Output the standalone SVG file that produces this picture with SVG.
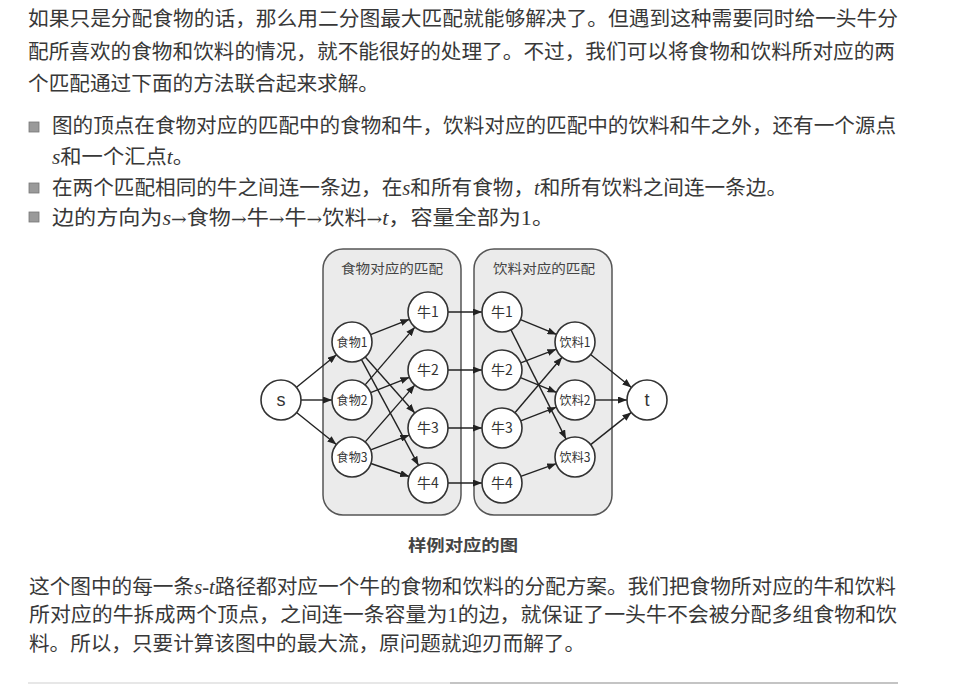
<svg xmlns="http://www.w3.org/2000/svg" width="957" height="684" viewBox="0 0 957 684">
<style>
.p{font-family:"Liberation Serif","Noto Sans CJK SC",serif;font-size:20px;fill:#383838}
.i{font-style:italic}
.ar{font-family:"DejaVu Serif","DejaVu Sans",serif;font-size:17px}
.box{fill:#ebebeb;stroke:#555;stroke-width:1.5}
.hd{font-family:"Noto Sans CJK SC","Liberation Sans",sans-serif;font-size:13px;fill:#444}
.nd{fill:#fff;stroke:#333;stroke-width:1.6}
.lb{font-family:"Noto Sans CJK SC","Liberation Sans",sans-serif;font-size:12.5px;fill:#333;text-anchor:middle}
.lc{font-family:"Noto Sans CJK SC","Liberation Sans",sans-serif;font-size:14px;fill:#333;text-anchor:middle}
.ls{font-family:"Liberation Sans","Noto Sans CJK SC",sans-serif;font-size:18px;fill:#333;text-anchor:middle}
.e{stroke:#222;stroke-width:1.4;fill:none;marker-end:url(#ah)}
.bul{fill:#9a9a9a;stroke:#777;stroke-width:0.8}
.cap{font-family:"Noto Sans CJK SC","Liberation Sans",sans-serif;font-size:16px;font-weight:bold;fill:#444}
</style>
<defs>
<marker id="ah" markerUnits="userSpaceOnUse" markerWidth="9" markerHeight="7" refX="9" refY="3.5" orient="auto">
<path d="M0,0 L9,3.5 L0,7 z" fill="#222"/>
</marker>
</defs>
<rect width="957" height="684" fill="#fff"/>

<g id="intro">
<text class="p" x="28" y="26" textLength="870" lengthAdjust="spacingAndGlyphs">如果只是分配食物的话，那么用二分图最大匹配就能够解决了。但遇到这种需要同时给一头牛分</text>
<text class="p" x="28" y="58.5" textLength="867" lengthAdjust="spacingAndGlyphs">配所喜欢的食物和饮料的情况，就不能很好的处理了。不过，我们可以将食物和饮料所对应的两</text>
<text class="p" x="28" y="91" textLength="351" lengthAdjust="spacingAndGlyphs">个匹配通过下面的方法联合起来求解。</text>
</g>

<g id="bullets">
<rect class="bul" x="29" y="122" width="10" height="10"/>
<rect class="bul" x="29" y="183" width="10" height="10"/>
<rect class="bul" x="29" y="212" width="10" height="10"/>
<text class="p" x="52" y="133" textLength="844" lengthAdjust="spacingAndGlyphs">图的顶点在食物对应的匹配中的食物和牛，饮料对应的匹配中的饮料和牛之外，还有一个源点</text>
<text class="p" x="52" y="164" textLength="142" lengthAdjust="spacingAndGlyphs"><tspan class="i">s</tspan>和一个汇点<tspan class="i">t</tspan>。</text>
<text class="p" x="52" y="195" textLength="735" lengthAdjust="spacingAndGlyphs">在两个匹配相同的牛之间连一条边，在<tspan class="i">s</tspan>和所有食物，<tspan class="i">t</tspan>和所有饮料之间连一条边。</text>
<text class="p" x="52" y="225" textLength="502" lengthAdjust="spacingAndGlyphs">边的方向为<tspan class="i">s</tspan><tspan class="ar">→</tspan>食物<tspan class="ar">→</tspan>牛<tspan class="ar">→</tspan>牛<tspan class="ar">→</tspan>饮料<tspan class="ar">→</tspan><tspan class="i">t</tspan>，容量全部为1。</text>
</g>

<g id="food-box">
<rect class="box" x="323" y="249" width="138" height="266" rx="20"/>
<text class="hd" x="341" y="273" textLength="102" lengthAdjust="spacingAndGlyphs">食物对应的匹配</text>
</g>
<g id="drink-box">
<rect class="box" x="474" y="249" width="138" height="266" rx="20"/>
<text class="hd" x="493" y="273" textLength="102" lengthAdjust="spacingAndGlyphs">饮料对应的匹配</text>
</g>

<g id="connectors">
<line class="e" x1="296.5" y1="387.3" x2="336.5" y2="354.7"/>
<line class="e" x1="301" y1="400" x2="332" y2="400"/>
<line class="e" x1="296.6" y1="412.5" x2="336.4" y2="444.5"/>
<line class="e" x1="370.6" y1="334.7" x2="409.4" y2="319.3"/>
<line class="e" x1="365.2" y1="357" x2="414.8" y2="413"/>
<line class="e" x1="361.5" y1="359.6" x2="418.5" y2="465.4"/>
<line class="e" x1="365.1" y1="384.9" x2="414.9" y2="327.1"/>
<line class="e" x1="370.6" y1="392.7" x2="409.4" y2="377.3"/>
<line class="e" x1="365.2" y1="441.9" x2="414.8" y2="385.1"/>
<line class="e" x1="370.7" y1="449.9" x2="409.3" y2="435.1"/>
<line class="e" x1="370.9" y1="463.5" x2="409.1" y2="476.5"/>
<line class="e" x1="448" y1="312" x2="482" y2="312"/>
<line class="e" x1="448" y1="370" x2="482" y2="370"/>
<line class="e" x1="448" y1="428" x2="482" y2="428"/>
<line class="e" x1="448" y1="483" x2="482" y2="483"/>
<line class="e" x1="520.5" y1="319.6" x2="556.5" y2="334.4"/>
<line class="e" x1="511" y1="329.9" x2="566" y2="439.1"/>
<line class="e" x1="520.7" y1="362.8" x2="556.3" y2="349.2"/>
<line class="e" x1="520.5" y1="377.6" x2="556.5" y2="392.4"/>
<line class="e" x1="514.9" y1="412.8" x2="562.1" y2="357.2"/>
<line class="e" x1="520.7" y1="420.8" x2="556.3" y2="407.2"/>
<line class="e" x1="520.8" y1="476.3" x2="556.2" y2="463.7"/>
<line class="e" x1="590.6" y1="354.5" x2="631.4" y2="387.5"/>
<line class="e" x1="595" y1="400" x2="627" y2="400"/>
<line class="e" x1="590.7" y1="444.6" x2="631.3" y2="412.4"/>
</g>

<g id="n-s"><circle class="nd" cx="281" cy="400" r="20"/><text class="ls" x="281" y="406">s</text></g>
<g id="n-f1"><circle class="nd" cx="352" cy="342" r="20"/><text class="lb" x="352" y="346.5" textLength="31" lengthAdjust="spacingAndGlyphs">食物1</text></g>
<g id="n-f2"><circle class="nd" cx="352" cy="400" r="20"/><text class="lb" x="352" y="404.5" textLength="31" lengthAdjust="spacingAndGlyphs">食物2</text></g>
<g id="n-f3"><circle class="nd" cx="352" cy="457" r="20"/><text class="lb" x="352" y="461.5" textLength="31" lengthAdjust="spacingAndGlyphs">食物3</text></g>
<g id="n-c1a"><circle class="nd" cx="428" cy="312" r="20"/><text class="lc" x="428" y="317">牛1</text></g>
<g id="n-c2a"><circle class="nd" cx="428" cy="370" r="20"/><text class="lc" x="428" y="375">牛2</text></g>
<g id="n-c3a"><circle class="nd" cx="428" cy="428" r="20"/><text class="lc" x="428" y="433">牛3</text></g>
<g id="n-c4a"><circle class="nd" cx="428" cy="483" r="20"/><text class="lc" x="428" y="488">牛4</text></g>
<g id="n-c1b"><circle class="nd" cx="502" cy="312" r="20"/><text class="lc" x="502" y="317">牛1</text></g>
<g id="n-c2b"><circle class="nd" cx="502" cy="370" r="20"/><text class="lc" x="502" y="375">牛2</text></g>
<g id="n-c3b"><circle class="nd" cx="502" cy="428" r="20"/><text class="lc" x="502" y="433">牛3</text></g>
<g id="n-c4b"><circle class="nd" cx="502" cy="483" r="20"/><text class="lc" x="502" y="488">牛4</text></g>
<g id="n-d1"><circle class="nd" cx="575" cy="342" r="20"/><text class="lb" x="575" y="346.5" textLength="31" lengthAdjust="spacingAndGlyphs">饮料1</text></g>
<g id="n-d2"><circle class="nd" cx="575" cy="400" r="20"/><text class="lb" x="575" y="404.5" textLength="31" lengthAdjust="spacingAndGlyphs">饮料2</text></g>
<g id="n-d3"><circle class="nd" cx="575" cy="457" r="20"/><text class="lb" x="575" y="461.5" textLength="31" lengthAdjust="spacingAndGlyphs">饮料3</text></g>
<g id="n-t"><circle class="nd" cx="647" cy="400" r="20"/><text class="ls" x="647" y="406">t</text></g>

<g id="caption">
<text class="cap" x="408" y="551" textLength="110" lengthAdjust="spacingAndGlyphs">样例对应的图</text>
</g>

<g id="outro">
<text class="p" x="29" y="594" textLength="867" lengthAdjust="spacingAndGlyphs">这个图中的每一条<tspan class="i">s-t</tspan>路径都对应一个牛的食物和饮料的分配方案。我们把食物所对应的牛和饮料</text>
<text class="p" x="29" y="622" textLength="868" lengthAdjust="spacingAndGlyphs">所对应的牛拆成两个顶点，之间连一条容量为1的边，就保证了一头牛不会被分配多组食物和饮</text>
<text class="p" x="29" y="651" textLength="556" lengthAdjust="spacingAndGlyphs">料。所以，只要计算该图中的最大流，原问题就迎刃而解了。</text>
</g>

<g id="rule">
<line x1="28" y1="683" x2="450" y2="683" stroke="#d0d0d0" stroke-width="1.2"/>
<line x1="450" y1="683" x2="898" y2="683" stroke="#8a8a8a" stroke-width="1.2"/>
</g>
</svg>
